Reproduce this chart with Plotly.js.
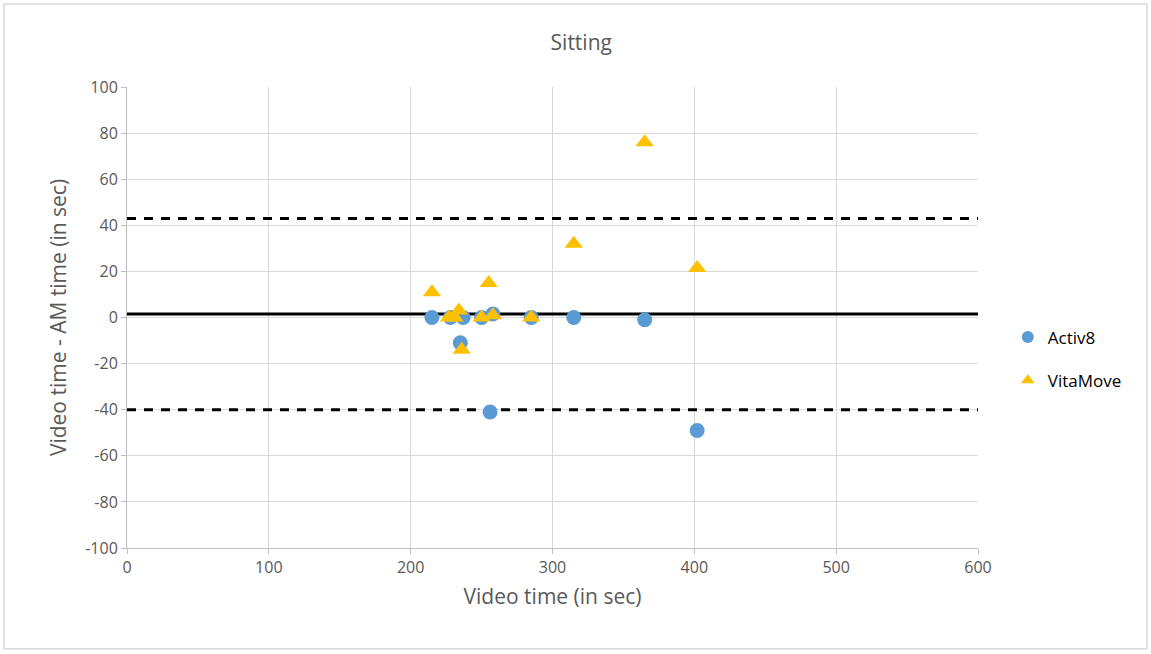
<!DOCTYPE html>
<html>
<head>
<meta charset="utf-8">
<script src="https://cdn.plot.ly/plotly-3.0.1.min.js"></script>
<style>html,body{margin:0;padding:0;background:#fff;}#chart{width:1151px;height:654px;}</style>
</head>
<body>
<div id="chart"></div>
<script>
const activ8X = [215, 228, 235, 237, 250, 256, 258, 285, 315, 365, 402];
const activ8Y = [0, 0, -11, 0, 0, -41, 1.5, 0, 0, -1, -49];
const vitaX = [215, 227, 231, 234, 236, 250, 255, 258, 285, 315, 365, 402];
const vitaY = [11, 0, 0, 3, -14, 0, 15, 1, 0, 32, 76, 21.5];
const meanDiff = 1.5;
const upperLoA = 43;
const lowerLoA = -40;
const xRange = [0, 600];
const yRange = [-100, 100];
const xTickVals = [0, 100, 200, 300, 400, 500, 600];
const xTickText = ['0', '100', '200', '300', '400', '500', '600'];
const yTickVals = [-100, -80, -60, -40, -20, 0, 20, 40, 60, 80, 100];
const yTickText = ['-100', '-80', '-60', '-40', '-20', '0', '20', '40', '60', '80', '100'];

const font = "Open Sans, Noto Sans, sans-serif";

const traces = [
  {x: xRange, y: [meanDiff, meanDiff], mode: 'lines', line: {color: '#000', width: 3}, showlegend: false, hoverinfo: 'skip'},
  {x: xRange, y: [upperLoA, upperLoA], mode: 'lines', line: {color: '#000', width: 3, dash: '9px,8px'}, showlegend: false, hoverinfo: 'skip'},
  {x: xRange, y: [lowerLoA, lowerLoA], mode: 'lines', line: {color: '#000', width: 3, dash: '9px,8px'}, showlegend: false, hoverinfo: 'skip'},
  {x: activ8X, y: activ8Y, mode: 'markers', name: 'Activ8', legendgroup: 'a', marker: {symbol: 'circle', size: 15, color: '#5b9bd5'}},
  {x: vitaX, y: vitaY, mode: 'markers', name: 'VitaMove', legendgroup: 'v', marker: {symbol: 'triangle-up', size: 16, color: '#ffc000'}}
];

const layout = {
  width: 1151, height: 654,
  margin: {l: 127, r: 173, t: 87, b: 106},
  paper_bgcolor: '#fff', plot_bgcolor: '#fff',
  font: {family: font, color: '#595959'},
  title: {text: 'Sitting', font: {size: 21, color: '#595959', family: font}, x: 0.505, xanchor: 'center', y: 0.935, yanchor: 'middle'},
  xaxis: {
    range: xRange, tickmode: 'array', tickvals: xTickVals, ticktext: xTickText,
    showgrid: true, gridcolor: '#d9d9d9', gridwidth: 1,
    zeroline: false, showline: true, linecolor: '#bfbfbf', linewidth: 1,
    ticks: 'outside', ticklen: 5, tickcolor: '#bfbfbf',
    tickfont: {size: 16, color: '#595959'},
    title: {text: 'Video time (in sec)', font: {size: 21, color: '#595959'}, standoff: 12}
  },
  yaxis: {
    range: yRange, tickmode: 'array', tickvals: yTickVals, ticktext: yTickText,
    showgrid: true, gridcolor: '#d9d9d9', gridwidth: 1,
    zeroline: false, showline: true, linecolor: '#bfbfbf', linewidth: 1,
    ticks: 'outside', ticklen: 5, tickcolor: '#bfbfbf',
    tickfont: {size: 16, color: '#595959'},
    title: {text: 'Video time - AM time (in sec)', font: {size: 21, color: '#595959'}, standoff: 12}
  },
  legend: {
    x: 1.035, y: 0.41, xanchor: 'left', yanchor: 'middle',
    font: {size: 17, color: '#000'}, tracegroupgap: 18, itemsizing: 'constant',
    bgcolor: 'rgba(0,0,0,0)'
  },
  shapes: [
    {type: 'rect', xref: 'paper', yref: 'paper', x0: -0.1445, x1: 1.1985, y0: -0.2185, y1: 1.180, line: {color: '#d9d9d9', width: 1.5}, fillcolor: 'rgba(0,0,0,0)'}
  ],
  showlegend: true
};

Plotly.newPlot('chart', traces, layout, {displayModeBar: false, staticPlot: true});
</script>
</body>
</html>
